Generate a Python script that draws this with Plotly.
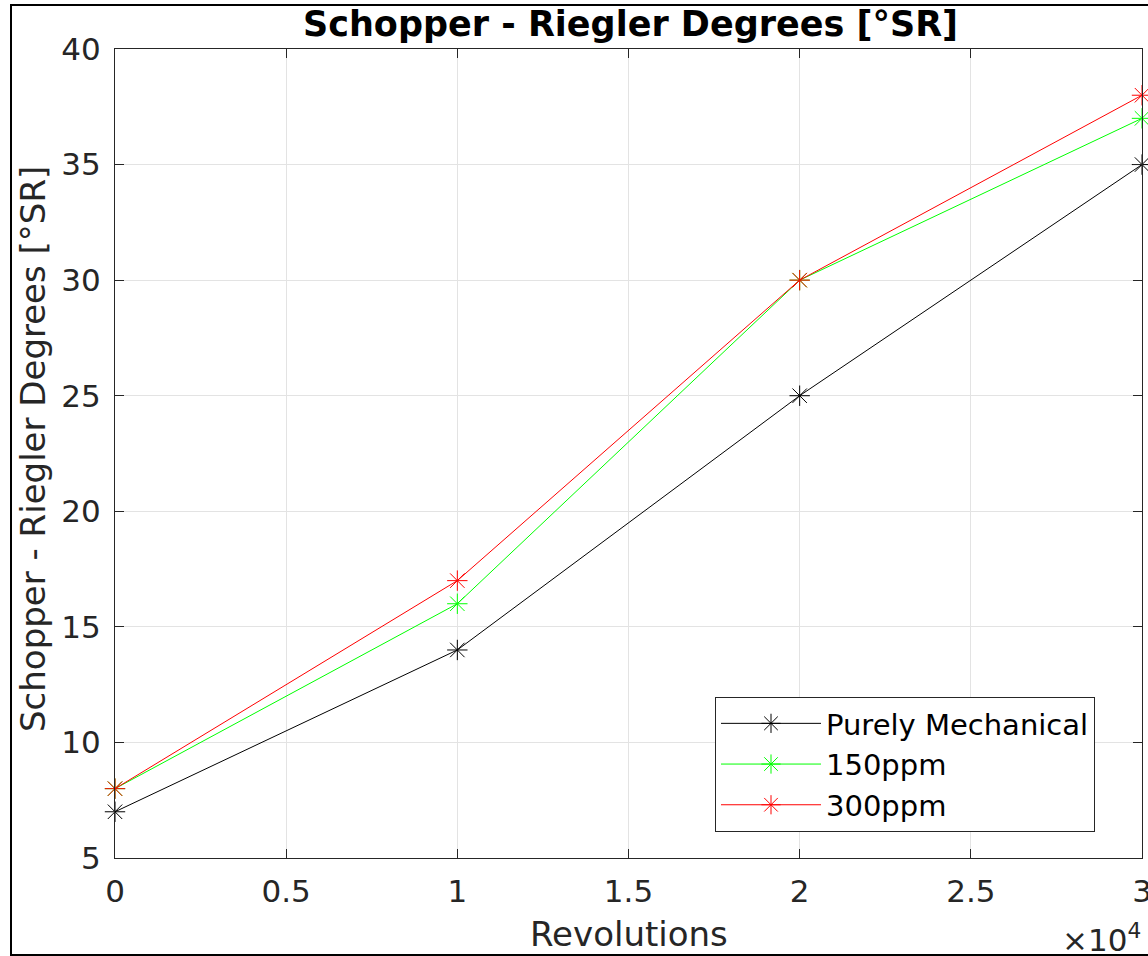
import plotly.graph_objects as go

revolutions = [0, 10000, 20000, 30000]
purely_mechanical = [7, 14, 25, 35]
ppm150 = [8, 16, 30, 37]
ppm300 = [8, 17, 30, 38]

x_tickvals = [0, 5000, 10000, 15000, 20000, 25000, 30000]
x_ticktext = ["0", "0.5", "1", "1.5", "2", "2.5", "3"]
y_tickvals = [5, 10, 15, 20, 25, 30, 35, 40]

W, H = 1148, 956
L, R, T, B = 115, 1142, 49, 858
pw, ph = R - L, B - T

def px(x):
    return (x - L) / pw

def py(y):
    return (B - y) / ph

FONT = "DejaVu Sans"
TXT = "#262626"

fig = go.Figure()
series = [
    ("Purely Mechanical", purely_mechanical, "#000000"),
    ("150ppm", ppm150, "#00ff00"),
    ("300ppm", ppm300, "#ff0000"),
]
for name, vals, col in series:
    fig.add_trace(go.Scatter(
        x=revolutions, y=vals, name=name, mode="lines+markers",
        line=dict(color=col, width=1),
        marker=dict(symbol="asterisk-open", size=17, color=col,
                    line=dict(color=col, width=1)),
        cliponaxis=False,
    ))

axis_common = dict(
    showline=True, linecolor=TXT, linewidth=1, mirror="ticks",
    ticks="inside", ticklen=9, tickcolor=TXT, tickwidth=1,
    showgrid=True, gridcolor="#e3e3e3", gridwidth=1, zeroline=False,
    tickfont=dict(family=FONT, size=31, color=TXT),
    ticklabeloverflow="allow", automargin=False,
)

fig.update_layout(
    width=W, height=H,
    margin=dict(l=L, r=W - R, t=T, b=H - B, autoexpand=False),
    paper_bgcolor="white", plot_bgcolor="white",
    xaxis=dict(range=[0, 30000], tickvals=x_tickvals, ticktext=x_ticktext,
               ticklabelstandoff=6, **axis_common),
    yaxis=dict(range=[5, 40], tickvals=y_tickvals, ticklabelstandoff=7, **axis_common),
    showlegend=True,
    legend=dict(
        x=px(715), y=py(697), xanchor="left", yanchor="top",
        bgcolor="white", bordercolor=TXT, borderwidth=1,
        font=dict(family=FONT, size=29, color="#000000"),
        itemwidth=100, tracegroupgap=0,
    ),
    annotations=[
        dict(text="<b>Schopper - Riegler Degrees [°SR]</b>", xref="paper", yref="paper",
             x=px(630), y=py(24), xanchor="center", yanchor="middle", showarrow=False,
             font=dict(family=FONT, size=35, color="#000000")),
        dict(text="Revolutions", xref="paper", yref="paper",
             x=px(629), y=py(934), xanchor="center", yanchor="middle", showarrow=False,
             font=dict(family=FONT, size=34, color=TXT)),
        dict(text="Schopper - Riegler Degrees [°SR]", xref="paper", yref="paper",
             x=px(33), y=py(449), xanchor="center", yanchor="middle", showarrow=False,
             textangle=-90, font=dict(family=FONT, size=34, color=TXT)),
        dict(text="×10<sup>4</sup>", xref="paper", yref="paper",
             x=px(1143), y=py(960), xanchor="right", yanchor="bottom", showarrow=False,
             font=dict(family=FONT, size=31, color=TXT)),
    ],
    shapes=[
        dict(type="rect", xref="paper", yref="paper",
             x0=px(11), x1=px(1149), y0=py(955), y1=py(5),
             line=dict(color="#000000", width=2), fillcolor="rgba(0,0,0,0)", layer="below"),
    ],
)

fig.write_html(
    "out.html",
    config={"displayModeBar": False},
    post_script="document.body.style.margin='0';document.body.style.overflow='hidden';",
)
